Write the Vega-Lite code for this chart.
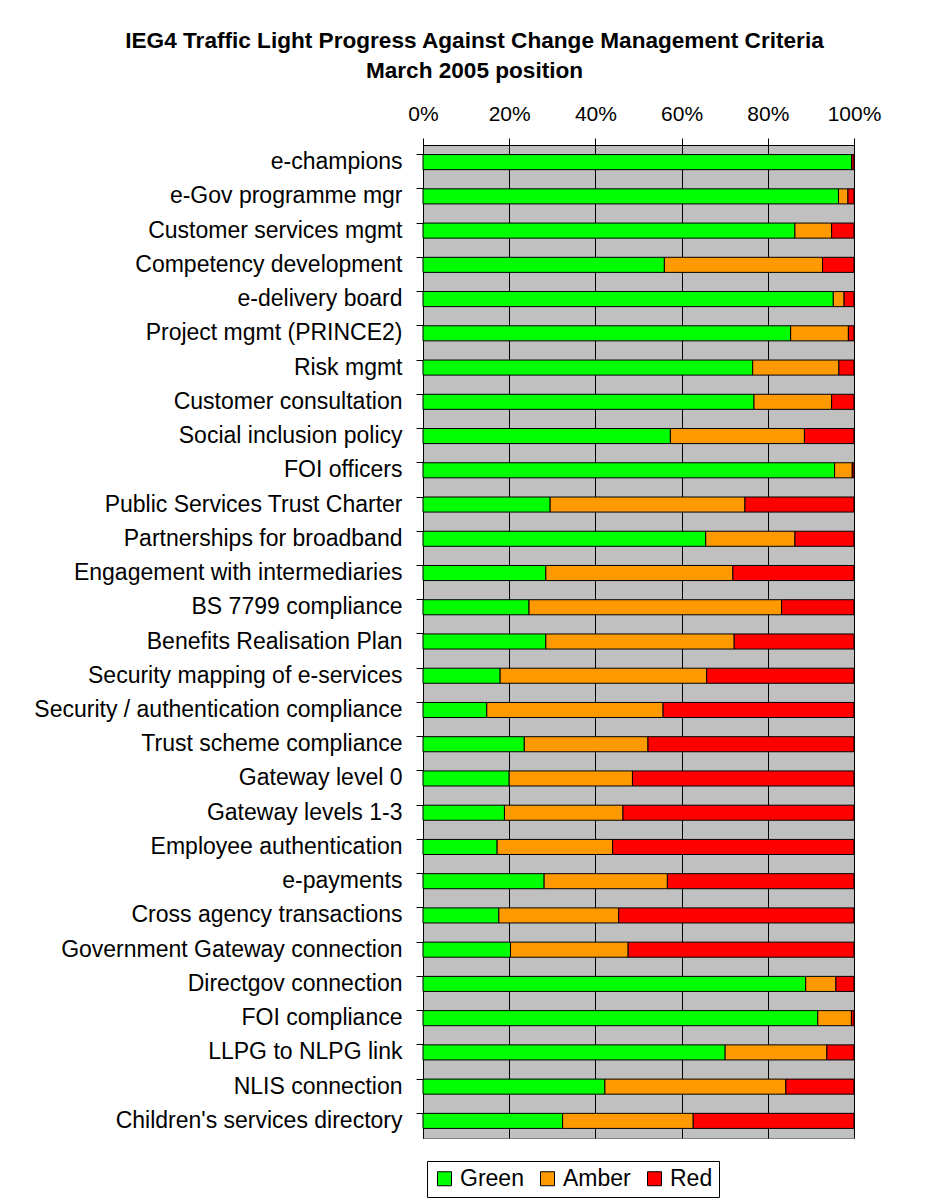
{
  "$schema": "https://vega.github.io/schema/vega-lite/v6.json",
  "autosize": "none",
  "width": 431,
  "height": 993,
  "padding": {"left": 423, "top": 145, "right": 73, "bottom": 64},
  "background": "white",
  "title": {
    "text": ["IEG4 Traffic Light Progress Against Change Management Criteria", "March 2005 position"],
    "anchor": "middle",
    "frame": "group",
    "dx": -164,
    "offset": 20,
    "font": "Liberation Sans",
    "fontSize": 22.6,
    "fontWeight": "bold",
    "lineHeight": 30,
    "color": "black"
  },
  "datasets": {
    "statusOrder": [
      {"status": "Green", "rank": 1},
      {"status": "Amber", "rank": 2},
      {"status": "Red", "rank": 3}
    ]
  },
  "data": {
    "values": [
      {"criterion": "e-champions", "Green": 99.5, "Amber": 0, "Red": 0.5},
      {"criterion": "e-Gov programme mgr", "Green": 96.4, "Amber": 2.2, "Red": 1.4},
      {"criterion": "Customer services mgmt", "Green": 86.3, "Amber": 8.5, "Red": 5.2},
      {"criterion": "Competency development", "Green": 56.0, "Amber": 36.7, "Red": 7.3},
      {"criterion": "e-delivery board", "Green": 95.2, "Amber": 2.5, "Red": 2.3},
      {"criterion": "Project mgmt (PRINCE2)", "Green": 85.3, "Amber": 13.4, "Red": 1.3},
      {"criterion": "Risk mgmt", "Green": 76.5, "Amber": 20.0, "Red": 3.5},
      {"criterion": "Customer consultation", "Green": 76.8, "Amber": 18.0, "Red": 5.2},
      {"criterion": "Social inclusion policy", "Green": 57.4, "Amber": 31.1, "Red": 11.5},
      {"criterion": "FOI officers", "Green": 95.5, "Amber": 4.1, "Red": 0.4},
      {"criterion": "Public Services Trust Charter", "Green": 29.5, "Amber": 45.2, "Red": 25.3},
      {"criterion": "Partnerships for broadband", "Green": 65.6, "Amber": 20.7, "Red": 13.7},
      {"criterion": "Engagement with intermediaries", "Green": 28.5, "Amber": 43.4, "Red": 28.1},
      {"criterion": "BS 7799 compliance", "Green": 24.6, "Amber": 58.6, "Red": 16.8},
      {"criterion": "Benefits Realisation Plan", "Green": 28.5, "Amber": 43.7, "Red": 27.8},
      {"criterion": "Security mapping of e-services", "Green": 17.9, "Amber": 47.9, "Red": 34.2},
      {"criterion": "Security / authentication compliance", "Green": 14.8, "Amber": 40.9, "Red": 44.3},
      {"criterion": "Trust scheme compliance", "Green": 23.5, "Amber": 28.7, "Red": 47.8},
      {"criterion": "Gateway level 0", "Green": 20.0, "Amber": 28.6, "Red": 51.4},
      {"criterion": "Gateway levels 1-3", "Green": 18.9, "Amber": 27.5, "Red": 53.6},
      {"criterion": "Employee authentication", "Green": 17.2, "Amber": 26.8, "Red": 56.0},
      {"criterion": "e-payments", "Green": 28.1, "Amber": 28.6, "Red": 43.3},
      {"criterion": "Cross agency transactions", "Green": 17.6, "Amber": 27.8, "Red": 54.6},
      {"criterion": "Government Gateway connection", "Green": 20.3, "Amber": 27.3, "Red": 52.4},
      {"criterion": "Directgov connection", "Green": 88.8, "Amber": 7.0, "Red": 4.2},
      {"criterion": "FOI compliance", "Green": 91.6, "Amber": 7.8, "Red": 0.6},
      {"criterion": "LLPG to NLPG link", "Green": 70.1, "Amber": 23.6, "Red": 6.3},
      {"criterion": "NLIS connection", "Green": 42.2, "Amber": 42.0, "Red": 15.8},
      {"criterion": "Children's services directory", "Green": 32.4, "Amber": 30.3, "Red": 37.3}
    ]
  },
  "transform": [
    {"fold": ["Green", "Amber", "Red"], "as": ["status", "pct"]},
    {"lookup": "status", "from": {"data": {"name": "statusOrder"}, "key": "status", "fields": ["rank"]}}
  ],
  "mark": {"type": "bar", "stroke": "black", "strokeWidth": 1},
  "encoding": {
    "y": {
      "field": "criterion",
      "type": "nominal",
      "sort": null,
      "scale": {"paddingInner": 0.56, "paddingOuter": 0.28},
      "axis": {
        "title": null,
        "bandPosition": 0,
        "labelFont": "Liberation Sans",
        "labelFontSize": 23,
        "labelColor": "black",
        "labelPadding": 14,
        "labelLimit": 0,
        "tickSize": 7,
        "tickColor": "black",
        "domainColor": "black",
        "grid": false
      }
    },
    "x": {
      "field": "pct",
      "type": "quantitative",
      "stack": "normalize",
      "scale": {"domain": [0, 1], "nice": false},
      "axis": {
        "orient": "top",
        "title": null,
        "values": [0, 0.2, 0.4, 0.6, 0.8, 1],
        "format": ".0%",
        "labelFont": "Liberation Sans",
        "labelFontSize": 21,
        "labelColor": "black",
        "labelPadding": 14,
        "labelFlush": false,
        "tickSize": 7,
        "tickColor": "black",
        "domainColor": "black",
        "grid": true,
        "gridColor": "black",
        "gridOpacity": 1,
        "gridWidth": 1
      }
    },
    "order": {"field": "rank", "type": "quantitative", "sort": "ascending"},
    "color": {
      "field": "status",
      "type": "nominal",
      "scale": {"domain": ["Green", "Amber", "Red"], "range": ["#00ff00", "#ff9900", "#ff0000"]},
      "legend": {
        "title": null,
        "orient": "none",
        "direction": "horizontal",
        "legendX": 4,
        "legendY": 1016,
        "symbolType": "square",
        "symbolSize": 196,
        "symbolStrokeColor": "black",
        "symbolStrokeWidth": 1,
        "symbolOpacity": 1,
        "labelFont": "Liberation Sans",
        "labelFontSize": 23,
        "labelColor": "black",
        "labelOffset": 4,
        "columnPadding": 12,
        "padding": 6,
        "strokeColor": "black",
        "fillColor": "white"
      }
    }
  },
  "config": {
    "view": {"fill": "#c0c0c0", "stroke": "#808080", "strokeWidth": 1},
    "axis": {"domainWidth": 1, "tickWidth": 1}
  }
}
